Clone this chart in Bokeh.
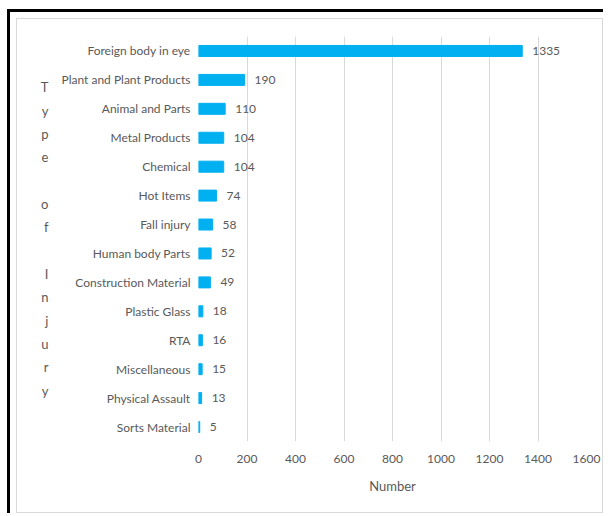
from bokeh.plotting import figure
from bokeh.layouts import column
from bokeh.models import ColumnDataSource, LabelSet, FactorRange, Range1d, FixedTicker
from bokeh.core.properties import value
from bokeh.embed import file_html
from bokeh.resources import INLINE

categories = ["Foreign body in eye", "Plant and Plant Products", "Animal and Parts",
              "Metal Products", "Chemical", "Hot Items", "Fall injury", "Human body Parts",
              "Construction Material", "Plastic Glass", "RTA", "Miscellaneous",
              "Physical Assault", "Sorts Material"]
values = [1335, 190, 110, 104, 104, 74, 58, 52, 49, 18, 16, 15, 13, 5]
x_ticks = [0, 200, 400, 600, 800, 1000, 1200, 1400, 1600]
y_title = "Type of Injury"
x_title = "Number"

FONT = "Lato"
GREY = "#595959"

src = ColumnDataSource(dict(cat=categories, val=values, txt=[str(v) for v in values]))

p = figure(width=587, height=495, output_backend="svg", toolbar_location=None,
           y_range=FactorRange(*categories[::-1], range_padding=0),
           x_range=Range1d(0, 1600),
           min_border_left=181, min_border_right=18, min_border_top=17, min_border_bottom=73,
           styles={"border": "1px solid #D9D9D9"})
p.outline_line_color = None
p.background_fill_color = "white"
p.border_fill_color = "white"

p.hbar(y="cat", right="val", left=0, height=0.38, source=src, color="#00B0F0")

labels = LabelSet(x="val", y="cat", text="txt", source=src, x_offset=10,
                  text_baseline="middle", text_align="left", text_font=value(FONT),
                  text_font_size="12px", text_color=GREY)
p.add_layout(labels)

p.xgrid.grid_line_color = "#D9D9D9"
p.ygrid.grid_line_color = None
p.xaxis.ticker = FixedTicker(ticks=x_ticks)
for ax in (p.xaxis[0], p.yaxis[0]):
    ax.axis_line_color = None
    ax.major_tick_line_color = None
    ax.minor_tick_line_color = None
    ax.major_tick_out = 0
    ax.major_tick_in = 0
    ax.major_label_text_font = FONT
    ax.major_label_text_font_size = "12px"
    ax.major_label_text_color = GREY
    ax.axis_label_text_font = FONT
    ax.axis_label_text_font_size = "13px"
    ax.axis_label_text_font_style = "normal"
    ax.axis_label_text_color = GREY
p.xaxis.major_label_standoff = 13
p.xaxis.axis_label = x_title
p.xaxis.axis_label_standoff = 12
p.yaxis.major_label_standoff = 8

p.yaxis.axis_label = "\n".join(list(y_title))
p.yaxis.axis_label_orientation = "horizontal"
p.yaxis.axis_label_text_line_height = 1.46
p.yaxis.axis_label_standoff = 10

layout = column(p, styles={"margin-left": "7px", "margin-top": "9px",
                           "border-left": "3px solid black", "border-top": "3px solid black",
                           "padding-left": "6px", "padding-top": "6px"})

open("out.html", "w").write(file_html(layout, INLINE))
